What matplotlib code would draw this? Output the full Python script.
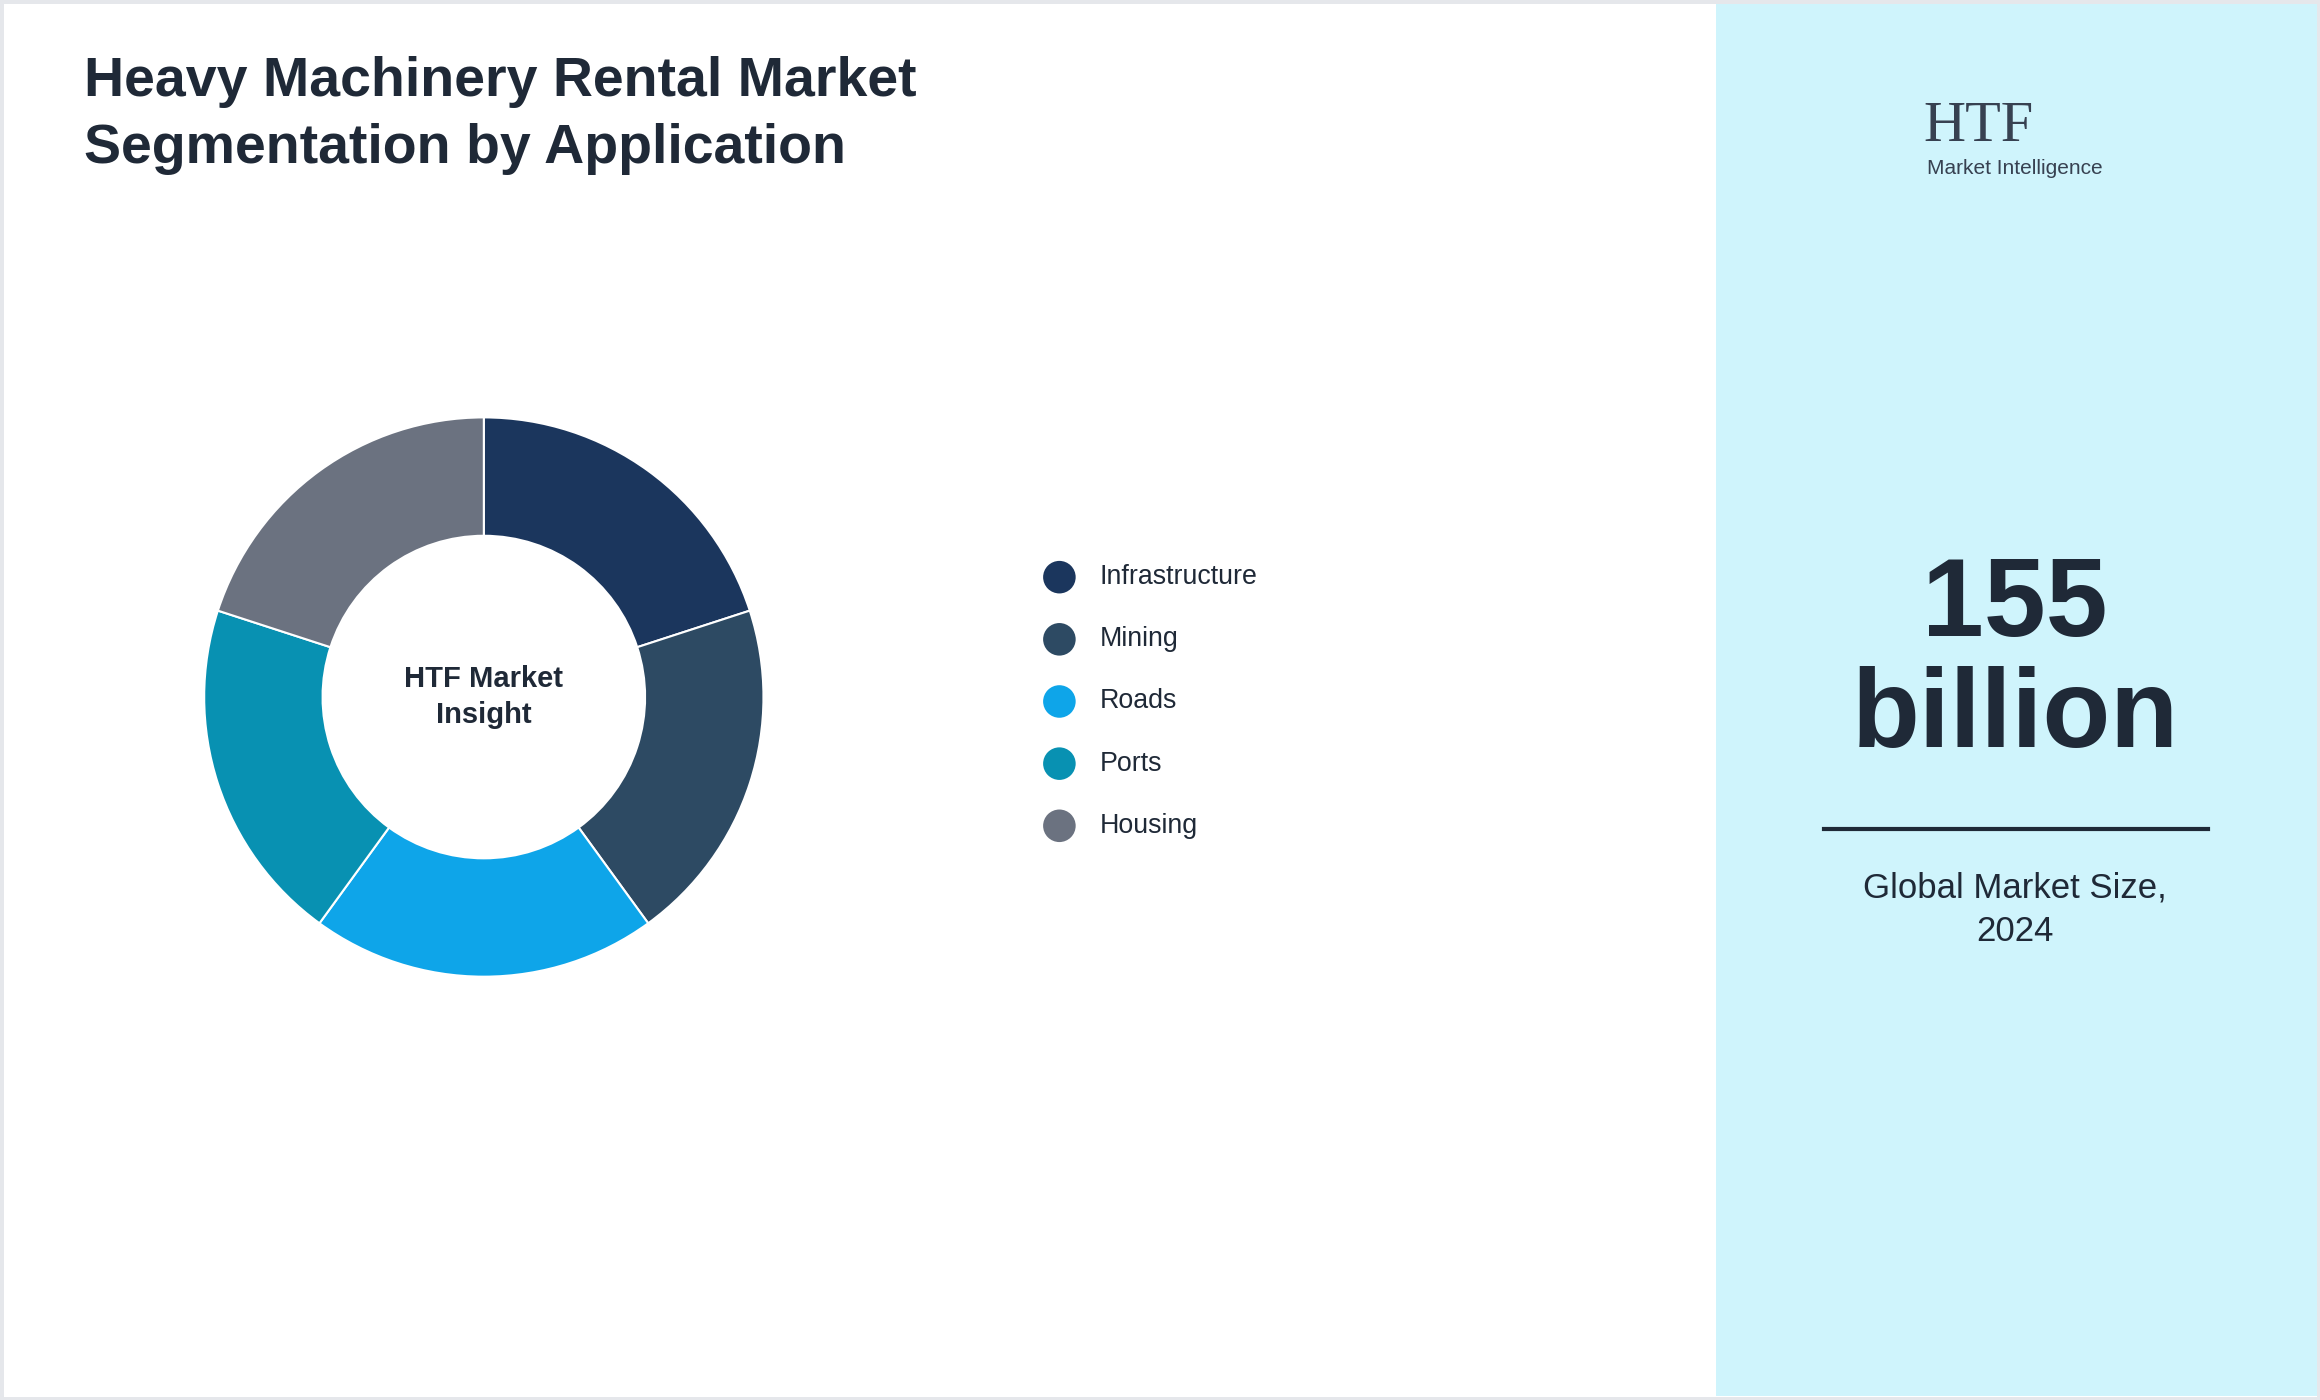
import matplotlib.pyplot as plt
from matplotlib.patches import Rectangle

plt.rcParams['font.family'] = ['Liberation Sans', 'DejaVu Sans']

# data
segments = ["Infrastructure", "Mining", "Roads", "Ports", "Housing"]
shares = [20, 20, 20, 20, 20]
colors = ["#1b365d", "#2d4a63", "#0ea5e9", "#0891b2", "#6b7280"]
market_value = ["155", "billion"]
market_label = "Global Market Size,\n2024"

W, H = 1568, 946
FW, FH = 23.2, 14
fig = plt.figure(figsize=(FW, FH), dpi=100)


def fx(x):
    return x / W


def fy(y):
    return 1 - y / H


# border and right panel
fig.patches.append(Rectangle((0, 0), 1, 1, transform=fig.transFigure, fill=False,
                             edgecolor="#e5e7eb", linewidth=5))
fig.patches.append(Rectangle((fx(1160), fy(943)), fx(1566 - 1160), (943 - 3) / H,
                             transform=fig.transFigure, facecolor="#cff4fc",
                             edgecolor="none"))

fig.text(fx(57), fy(78), "Heavy Machinery Rental Market\nSegmentation by Application",
         fontsize=40, fontweight="bold", color="#1f2937", va="center", ha="left",
         linespacing=1.38)

# donut
r = 189
ax = fig.add_axes([fx(327 - r), fy(471 + r), fx(2 * r), 2 * r / H])
ax.pie(shares, colors=colors, startangle=90, counterclock=False, radius=1,
       wedgeprops=dict(width=80 / 189, edgecolor="white", linewidth=1.5))
ax.set_xlim(-1, 1)
ax.set_ylim(-1, 1)
ax.set_aspect("equal")
ax.axis("off")
ax.text(0, 0, "HTF Market\nInsight", ha="center", va="center", fontsize=21,
        fontweight="bold", color="#1f2937", linespacing=1.35)

# legend
for i, (name, c) in enumerate(zip(segments, colors)):
    y = 390 + i * 42
    fig.patches.append(plt.Circle((fx(716) * FW, fy(y) * FH), 11 / H * FH,
                                  transform=fig.dpi_scale_trans,
                                  facecolor=c, edgecolor="none"))
    fig.text(fx(743), fy(y), name, fontsize=19.3, color="#1f2937", va="center")

# logo approximation
fig.text(fx(1300), fy(86), "HTF", fontsize=42, family="Liberation Serif",
         color="#374151", va="center", ha="left")
fig.text(fx(1362), fy(114), "Market Intelligence", fontsize=15, color="#374151",
         va="center", ha="center")

# right panel text
fig.text(fx(1362), fy(410), market_value[0], fontsize=80, fontweight="bold",
         color="#1f2937", ha="center", va="center")
fig.text(fx(1362), fy(485), market_value[1], fontsize=80, fontweight="bold",
         color="#1f2937", ha="center", va="center")
fig.add_artist(plt.Line2D([fx(1233), fx(1492)], [fy(560), fy(560)],
                          transform=fig.transFigure, color="#1f2937", linewidth=3))
fig.text(fx(1362), fy(615), market_label, fontsize=25, color="#1f2937",
         ha="center", va="center", linespacing=1.4)

fig.savefig("out.png", dpi=100)
